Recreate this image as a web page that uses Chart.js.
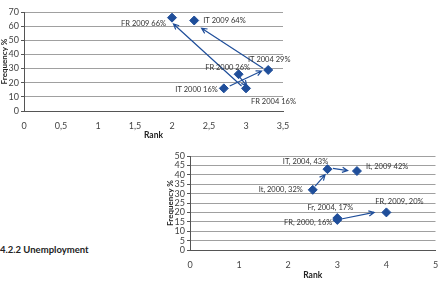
<!DOCTYPE html>
<html><head><meta charset="utf-8">
<script src="https://cdn.jsdelivr.net/npm/chart.js@4"></script>
<style>
body{margin:0;background:#fff;width:441px;height:294px;overflow:hidden;position:relative;font-family:Lato,sans-serif}
#c1{position:absolute;left:0;top:0}
#c2{position:absolute;left:166px;top:145px}
h4{position:absolute;left:0;top:244px;margin:0;font:bold 9.5px Lato,sans-serif;color:#222}
</style></head><body>
<canvas id="c1" width="300" height="140"></canvas>
<canvas id="c2" width="275" height="135"></canvas>
<h4>4.2.2 Unemployment</h4>
<script>
// chart 1 - rank vs frequency, FR / IT
const topLabels = ['FR 2009 66%','IT 2009 64%','IT 2004 29%','FR 2000 26%','IT 2000 16%','FR 2004 16%'];
const topRank = [2, 2.3, 3.3, 2.9, 2.7, 3.0];
const topFreq = [66, 64, 29, 26, 16, 16];
// arrows: [rankFrom, freqFrom, rankTo, freqTo]
const topArrows = [[2.78,17.7,3.21,28.3],[3.23,30.2,2.40,58.5],[2.91,24.3,3.01,17.7],[2.94,17.7,2.02,61.5]];

// chart 2 - unemployment
const botLabels = ['IT, 2004, 43%','It, 2009 42%','It, 2000, 32%','FR, 2009, 20%','Fr, 2004, 17%','FR, 2000, 16%'];
const botRank = [2.8, 3.4, 2.5, 4.0, 3.0, 3.0];
const botFreq = [43, 42, 32, 20, 17, 16];
const botArrows = [[2.55,34,2.75,40],[2.91,43.4,3.21,42.2],[3.08,16.5,3.75,20.0]];

const blue = '#1F4E9A';

// label placement [align, dx, dy] in px
const topPos = [['right',-6,6],['left',9,0],['center',1,-10],['center',-11,-7],['right',-6,1],['left',5,13]];
const botPos = [['center',-22,-8],['left',9,-4],['right',-10,0],['center',13,-11],['center',-7,-10],['right',-5,3]];

function annot(labels, pos, arrows){
  return {
    id:'annot',
    beforeDatasetsDraw(chart){
      const {ctx, scales:{x,y}} = chart;
      ctx.save();
      ctx.strokeStyle = blue; ctx.lineWidth = 1.2;
      arrows.forEach(([x1,y1,x2,y2]) => {
        const ax=x.getPixelForValue(x1), ay=y.getPixelForValue(y1);
        const bx=x.getPixelForValue(x2), by=y.getPixelForValue(y2);
        const a = Math.atan2(by-ay, bx-ax);
        ctx.beginPath();
        ctx.moveTo(ax,ay); ctx.lineTo(bx,by);
        ctx.moveTo(bx-6*Math.cos(a-0.45), by-6*Math.sin(a-0.45));
        ctx.lineTo(bx,by);
        ctx.lineTo(bx-6*Math.cos(a+0.45), by-6*Math.sin(a+0.45));
        ctx.stroke();
      });
      ctx.restore();
    },
    afterDatasetsDraw(chart){
      const ctx = chart.ctx;
      const pts = chart.getDatasetMeta(0).data;
      ctx.save();
      ctx.font = '7.5px Lato, sans-serif';
      ctx.fillStyle = '#333';
      ctx.textBaseline = 'middle';
      labels.forEach((t,i) => {
        const [al,dx,dy] = pos[i];
        ctx.textAlign = al;
        ctx.fillText(t, pts[i].x+dx, pts[i].y+dy);
      });
      ctx.restore();
    }
  };
}

function makeChart(id, rank, freq, labels, pos, arrows, xMax, xStep, yMax, yStep, yW, xH, pad){
  return new Chart(document.getElementById(id), {
    type:'scatter',
    data:{datasets:[{
      data: rank.map((r,i) => ({x:r, y:freq[i]})),
      pointStyle:'rectRot', pointRadius:4.5,
      backgroundColor: blue, borderColor: blue
    }]},
    options:{
      responsive:false, animation:false,
      layout:{padding:pad},
      plugins:{legend:{display:false}, tooltip:{enabled:false}},
      scales:{
        x:{
          type:'linear', min:0, max:xMax,
          afterFit: s => { s.height = xH; },
          ticks:{stepSize:xStep, autoSkip:false, maxRotation:0, color:'#444', font:{size:9, family:'Lato'}, padding:2,
            callback: v => String(v).replace('.', ',')},
          grid:{display:false},
          border:{color:'#555'},
          title:{display:true, text:'Rank', color:'#222', font:{size:8.5, weight:'bold', family:'Lato'}, padding:0}
        },
        y:{
          min:0, max:yMax,
          afterFit: s => { s.width = yW; },
          ticks:{stepSize:yStep, autoSkip:false, color:'#444', font:{size:9, family:'Lato'}, padding:2},
          grid:{color:'#a0a0a0', tickLength:3, tickColor:'#555'},
          border:{color:'#555'},
          title:{display:true, text:'Frequency %', color:'#222', font:{size:8, weight:'bold', family:'Lato'}, padding:0}
        }
      }
    },
    plugins:[annot(labels, pos, arrows)]
  });
}

makeChart('c1', topRank, topFreq, topLabels, topPos, topArrows, 3.5, 0.5, 70, 10, 24, 29, {top:12, right:17});
makeChart('c2', botRank, botFreq, botLabels, botPos, botArrows, 5, 1, 50, 5, 24, 30, {top:11, right:5});
</script>
</body></html>
